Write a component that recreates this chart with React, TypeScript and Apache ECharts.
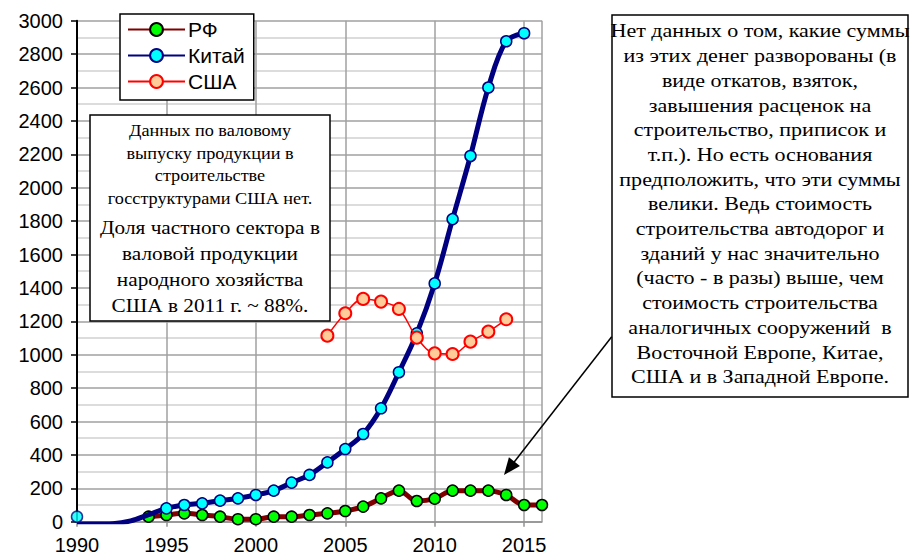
import React, { useEffect, useRef } from "react";
import * as echarts from "echarts";

const rfYears = [1994, 1995, 1996, 1997, 1998, 1999, 2000, 2001, 2002, 2003, 2004, 2005, 2006, 2007, 2008, 2009, 2010, 2011, 2012, 2013, 2014, 2015, 2016];
const rfValues = [30, 40, 50, 40, 30, 15, 15, 30, 30, 40, 50, 64, 90, 140, 186, 124, 138, 186, 186, 186, 160, 100, 100];

const chinaYears = [1990, 1991, 1992, 1993, 1994, 1995, 1996, 1997, 1998, 1999, 2000, 2001, 2002, 2003, 2004, 2005, 2006, 2007, 2008, 2009, 2010, 2011, 2012, 2013, 2014, 2015];
const chinaValues = [-14, -14, -12, 5, 42, 80, 100, 110, 126, 140, 160, 186, 234, 280, 355, 435, 525, 679, 895, 1128, 1427, 1812, 2190, 2600, 2877, 2925];
const chinaFirstMarkerYear = 1995;
const chinaStartYear = [1990];
const chinaStartValue = [30];

const usaYears = [2004, 2005, 2006, 2007, 2008, 2009, 2010, 2011, 2012, 2013, 2014];
const usaValues = [1114, 1248, 1334, 1318, 1274, 1102, 1008, 1004, 1078, 1138, 1212];

const seriesNames = ["РФ", "Китай", "США"];

const leftNoteTop = ["Данных по валовому", "выпуску продукции в", "строительстве", "госструктурами США нет."];
const leftNoteBottom = ["Доля частного сектора в", "валовой продукции", "народного хозяйства", "США в 2011 г. ~ 88%."];
const rightNote = [
  "Нет данных о том, какие суммы",
  "из этих денег разворованы (в",
  "виде откатов, взяток,",
  "завышения расценок на",
  "строительство, приписок и",
  "т.п.). Но есть основания",
  "предположить, что эти суммы",
  "велики. Ведь стоимость",
  "строительства автодорог и",
  "зданий у нас значительно",
  "(часто - в разы) выше, чем",
  "стоимость строительства",
  "аналогичных сооружений  в",
  "Восточной Европе, Китае,",
  "США и в Западной Европе.",
];

const SERIF = "Liberation Serif";
const SANS = "Liberation Sans";

export default function App() {
  const ref = useRef<HTMLDivElement>(null);
  useEffect(() => {
    if (!ref.current) return;
    const chart = echarts.init(ref.current, undefined, { renderer: "svg" });

    const ax = 611.7, ay = 336.7, tx = 504, ty = 475;
    const dx = tx - ax, dy = ty - ay;
    const len = Math.sqrt(dx * dx + dy * dy);
    const ux = dx / len, uy = dy / len;
    const hl = 17, hw = 7;
    const bx = tx - ux * hl, by = ty - uy * hl;

    const option: any = {
      animation: false,
      backgroundColor: "#ffffff",
      grid: { left: 77, top: 20.7, right: 369, bottom: 36.3, containLabel: false },
      legend: {
        data: seriesNames,
        orient: "vertical",
        left: 120,
        top: 14,
        padding: [5, 9, 8, 7],
        itemWidth: 57,
        itemHeight: 16,
        itemGap: 5,
        backgroundColor: "#ffffff",
        borderColor: "#000000",
        borderWidth: 1.5,
        borderRadius: 0,
        textStyle: { fontFamily: SANS, fontSize: 21, color: "#000000", padding: [0, 0, 0, -2] },
      },
      xAxis: {
        type: "value",
        min: 1990,
        max: 2016,
        interval: 5,
        axisLine: { show: true, onZero: false, lineStyle: { color: "#909090", width: 1.5 } },
        axisTick: { show: true, length: 5, lineStyle: { color: "#909090", width: 1.5 } },
        axisLabel: {
          showMaxLabel: false,
          formatter: (v: number) => String(v),
          fontFamily: SANS,
          fontSize: 20,
          color: "#000000",
          margin: 13,
        },
        splitLine: { show: true, lineStyle: { color: "#a0a0a0", width: 1.5 } },
      },
      yAxis: {
        type: "value",
        min: 0,
        max: 3000,
        interval: 200,
        axisLine: { show: true, lineStyle: { color: "#000000", width: 2 } },
        axisTick: { show: true, length: 6, lineStyle: { color: "#000000", width: 1.5 } },
        axisLabel: {
          formatter: (v: number) => String(v),
          fontFamily: SANS,
          fontSize: 20,
          color: "#000000",
          margin: 14,
        },
        splitLine: { show: true, lineStyle: { color: "#a0a0a0", width: 1.5 } },
        minorTick: { show: false, splitNumber: 2 },
        minorSplitLine: { show: true, lineStyle: { color: "#d0d0d0", width: 1.5 } },
      },
      series: [
        {
          name: seriesNames[0],
          type: "line",
          smooth: 0.35,
          data: rfYears.map((y, i) => [y, rfValues[i]]),
          lineStyle: { color: "#800000", width: 5 },
          symbol: "circle",
          symbolSize: 11,
          itemStyle: { color: "#00ff00", borderColor: "#000000", borderWidth: 1.5 },
          z: 2,
        },
        {
          name: seriesNames[1],
          type: "line",
          smooth: 0.35,
          data: chinaYears.map((y, i) =>
            y < chinaFirstMarkerYear
              ? { value: [y, chinaValues[i]], symbol: "none" }
              : { value: [y, chinaValues[i]] }
          ),
          lineStyle: { color: "#000080", width: 5 },
          symbol: "circle",
          symbolSize: 11,
          itemStyle: { color: "#00ffff", borderColor: "#000080", borderWidth: 1.5 },
          z: 3,
        },
        {
          name: seriesNames[1] + " 1990",
          type: "scatter",
          data: chinaStartYear.map((y, i) => [y, chinaStartValue[i]]),
          symbol: "circle",
          symbolSize: 11,
          itemStyle: { color: "#00ffff", borderColor: "#000080", borderWidth: 1.5 },
          z: 4,
        },
        {
          name: seriesNames[2],
          type: "line",
          smooth: 0.35,
          data: usaYears.map((y, i) => [y, usaValues[i]]),
          lineStyle: { color: "#ff0000", width: 1.5 },
          symbol: "circle",
          symbolSize: 12,
          itemStyle: { color: "#ffcc99", borderColor: "#ff0000", borderWidth: 2 },
          z: 5,
        },
      ],
      graphic: [
        {
          type: "rect",
          shape: { x: 90, y: 115, width: 240, height: 206 },
          style: { fill: "#ffffff", stroke: "#000000", lineWidth: 1.5 },
          z: 50,
        },
        {
          type: "text",
          x: 210,
          y: 131 - 11.25,
          scaleX: 1.14,
          style: {
            text: leftNoteTop.join("\n"),
            fontFamily: SERIF,
            fontSize: 16,
            lineHeight: 22.5,
            align: "center",
            verticalAlign: "top",
            fill: "#000000",
          },
          z: 51,
        },
        {
          type: "text",
          x: 210,
          y: 227 - 13,
          scaleX: 1.12,
          style: {
            text: leftNoteBottom.join("\n"),
            fontFamily: SERIF,
            fontSize: 19,
            lineHeight: 26,
            align: "center",
            verticalAlign: "top",
            fill: "#000000",
          },
          z: 51,
        },
        {
          type: "rect",
          shape: { x: 612, y: 15, width: 296, height: 382 },
          style: { fill: "#ffffff", stroke: "#000000", lineWidth: 1.5 },
          z: 50,
        },
        {
          type: "text",
          x: 760,
          y: 31 - 12.35,
          scaleX: 1.16,
          style: {
            text: rightNote.join("\n"),
            fontFamily: SERIF,
            fontSize: 19,
            lineHeight: 24.7,
            align: "center",
            verticalAlign: "top",
            fill: "#000000",
          },
          z: 51,
        },
        {
          type: "line",
          shape: { x1: ax, y1: ay, x2: bx + ux * 2, y2: by + uy * 2 },
          style: { stroke: "#000000", lineWidth: 1.5 },
          z: 52,
        },
        {
          type: "polygon",
          shape: {
            points: [
              [tx, ty],
              [bx - uy * hw, by + ux * hw],
              [bx + uy * hw, by - ux * hw],
            ],
          },
          style: { fill: "#000000" },
          z: 52,
        },
      ],
    };
    chart.setOption(option);
    return () => chart.dispose();
  }, []);

  return (
    <div
      ref={ref}
      style={{ width: 911, height: 558, position: "absolute", left: 0, top: 0, background: "#fff" }}
    />
  );
}
